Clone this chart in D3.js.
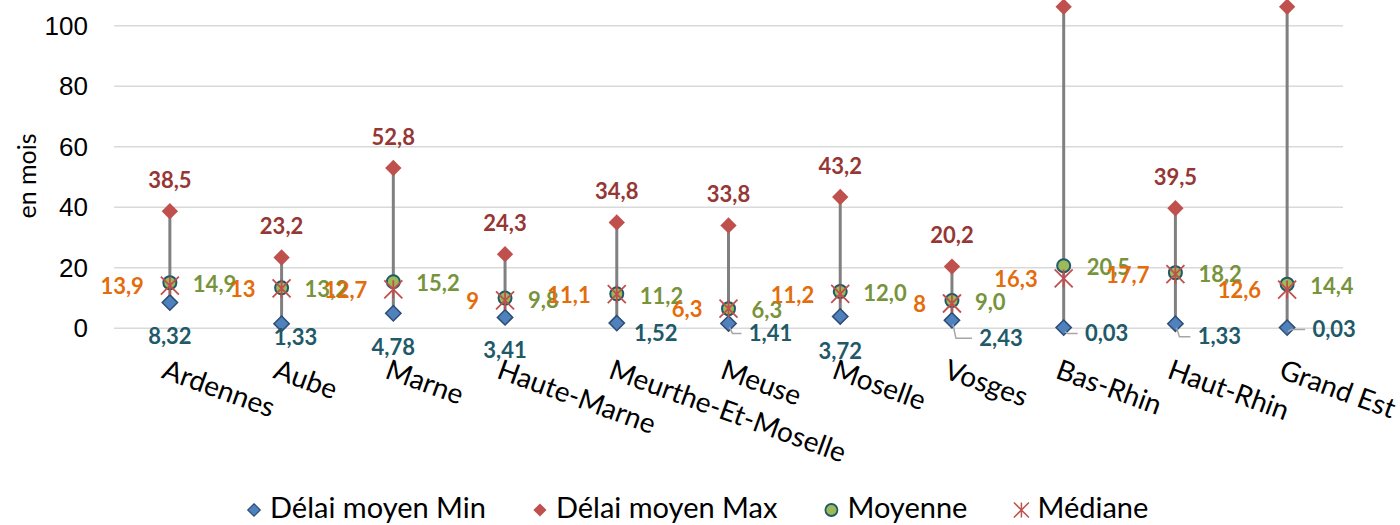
<!DOCTYPE html>
<html>
<head>
<meta charset="utf-8">
<script src="https://cdn.jsdelivr.net/npm/d3@7"></script>
<style>
  body { margin: 0; background: #fff; }
  svg { font-family: Lato, "Open Sans", sans-serif; display: block; }
</style>
</head>
<body>
<svg id="chart" width="1400" height="525"></svg>
<script>
// categories and series (months)
const departements = ['Ardennes', 'Aube', 'Marne', 'Haute-Marne', 'Meurthe-Et-Moselle', 'Meuse',
    'Moselle', 'Vosges', 'Bas-Rhin', 'Haut-Rhin', 'Grand Est'];
const delaiMin = [8.32, 1.33, 4.78, 3.41, 1.52, 1.41, 3.72, 2.43, 0.03, 1.33, 0.03];
const delaiMax = [38.5, 23.2, 52.8, 24.3, 34.8, 33.8, 43.2, 20.2, 106.1, 39.5, 106.1];
const moyenne = [14.9, 13.2, 15.2, 9.8, 11.2, 6.3, 12.0, 9.0, 20.5, 18.2, 14.4];
const mediane = [13.9, 13, 12.7, 9, 11.1, 6.3, 11.2, 8, 16.3, 17.7, 12.6];
const yTicks = [0, 20, 40, 60, 80, 100];

// hand-moved "Min" labels in the original: [dx, dy, leader line]
const minLabelNudge = [[0, 34, 0], [14, 14, 0], [0, 34, 0], [0, 33, 0], [39, 10, 0], [42, 10, 1],
    [0, 35, 0], [49, 18, 1], [43, 6, 1], [44, 13, 1], [47, 2, 1]];

const col = {
    minFill: '#4f81bd', minStroke: '#2c4d75', minText: '#215968',
    max: '#c0504d', maxText: '#953735',
    moyFill: '#9bbb59', moyStroke: '#215968', moyText: '#77933c',
    med: '#c0504d', medText: '#e46c0a',
    range: '#808080', grid: '#d9d9d9'
};

const svg = d3.select('#chart');
const left = 114, right = 1343;

const x = d3.scaleBand().domain(departements).range([left, right]).padding(0);
const y = d3.scaleLinear().domain([0, 100]).range([327.7, 25.2]);
const cx = d => x(d) + x.bandwidth() / 2;
const fr = s => s.replace('.', ',');

// gridlines + tick labels
const yaxis = d3.axisLeft(y).tickValues(yTicks).tickSize(-(right - left)).tickPadding(26);
const yg = svg.append('g').attr('transform', `translate(${left},0)`).call(yaxis);
yg.select('.domain').remove();
yg.selectAll('.tick line').attr('stroke', col.grid).attr('stroke-width', 1.5);
yg.selectAll('.tick text').attr('fill', '#000').style('font-size', '26px').attr('dy', '0.34em');

svg.append('text')
    .attr('transform', 'translate(36,176) rotate(-90)')
    .attr('text-anchor', 'middle')
    .style('font-size', '25px')
    .text('en mois');

// category labels
svg.append('g').selectAll('text')
    .data(departements)
    .join('text')
    .attr('transform', d => `translate(${cx(d) - 2},357) rotate(20)`)
    .attr('dy', '0.78em')
    .style('font-size', '28px')
    .text(d => d);

const idx = d3.range(departements.length);

// high-low lines
svg.append('g').selectAll('line')
    .data(idx)
    .join('line')
    .attr('x1', i => cx(departements[i])).attr('x2', i => cx(departements[i]))
    .attr('y1', i => y(delaiMin[i])).attr('y2', i => y(delaiMax[i]))
    .attr('stroke', col.range).attr('stroke-width', 3);

const diamond = d3.symbol().type(d3.symbolDiamond2);

// min
svg.append('g').selectAll('path')
    .data(idx)
    .join('path')
    .attr('transform', i => `translate(${cx(departements[i])},${y(delaiMin[i])})`)
    .attr('d', diamond.size(150)())
    .attr('fill', col.minFill).attr('stroke', col.minStroke).attr('stroke-width', 1.5);

// max
svg.append('g').selectAll('path')
    .data(idx)
    .join('path')
    .attr('transform', i => `translate(${cx(departements[i])},${y(delaiMax[i])})`)
    .attr('d', diamond.size(170)())
    .attr('fill', col.max);

// moyenne
svg.append('g').selectAll('circle')
    .data(idx)
    .join('circle')
    .attr('cx', i => cx(departements[i])).attr('cy', i => y(moyenne[i]))
    .attr('r', 6.5)
    .attr('fill', col.moyFill).attr('stroke', col.moyStroke).attr('stroke-width', 2);

// mediane (star marker)
const starPath = s => `M${-s},${-s}L${s},${s}M${-s},${s}L${s},${-s}M0,${-s}L0,${s}`;
svg.append('g').selectAll('path')
    .data(idx)
    .join('path')
    .attr('transform', i => `translate(${cx(departements[i])},${y(mediane[i])})`)
    .attr('d', starPath(9))
    .attr('stroke', col.med).attr('stroke-width', 1.8).attr('fill', 'none');

// data labels
const lab = svg.append('g').style('font-weight', 700).style('font-size', '22px');

// labels of points beyond the axis max sit outside the plot and are clipped
lab.selectAll('.lmax')
    .data(idx.filter(i => delaiMax[i] <= 100))
    .join('text')
    .attr('class', 'lmax')
    .attr('x', i => cx(departements[i])).attr('y', i => y(delaiMax[i]) - 31)
    .attr('dy', '0.35em').attr('text-anchor', 'middle')
    .attr('fill', col.maxText)
    .text(i => fr(d3.format('.1f')(delaiMax[i])));

lab.selectAll('.lmoy')
    .data(idx)
    .join('text')
    .attr('class', 'lmoy')
    .attr('x', i => cx(departements[i]) + 23).attr('y', i => y(moyenne[i]) + 2)
    .attr('dy', '0.35em')
    .attr('fill', col.moyText)
    .text(i => fr(d3.format('.1f')(moyenne[i])));

lab.selectAll('.lmed')
    .data(idx)
    .join('text')
    .attr('class', 'lmed')
    .attr('x', i => cx(departements[i]) - 26).attr('y', i => y(mediane[i]) + 1)
    .attr('dy', '0.35em').attr('text-anchor', 'end')
    .attr('fill', col.medText)
    .text(i => fr(String(mediane[i])));

// min labels with leader lines
svg.append('g').selectAll('path')
    .data(idx.filter(i => minLabelNudge[i][2]))
    .join('path')
    .attr('d', i => {
        const px = cx(departements[i]), py = y(delaiMin[i]);
        const ly = py + minLabelNudge[i][1];
        const lx = px + minLabelNudge[i][0] - 29;
        return `M${px + 1},${py + 4}L${px + 4},${ly}L${lx},${ly}`;
    })
    .attr('fill', 'none').attr('stroke', '#a6a6a6').attr('stroke-width', 1.5);

lab.selectAll('.lmin')
    .data(idx)
    .join('text')
    .attr('class', 'lmin')
    .attr('x', i => cx(departements[i]) + minLabelNudge[i][0])
    .attr('y', i => y(delaiMin[i]) + minLabelNudge[i][1])
    .attr('dy', '0.35em').attr('text-anchor', 'middle')
    .attr('fill', col.minText)
    .text(i => fr(d3.format('.2f')(delaiMin[i])));

// legend
const legendItems = [
    { name: 'Délai moyen Min', kind: 'min' },
    { name: 'Délai moyen Max', kind: 'max' },
    { name: 'Moyenne', kind: 'moy' },
    { name: 'Médiane', kind: 'med' }
];
const lg = svg.append('g').style('font-size', '29px');
let lx = 0;
const ly = 508, gap = 46;
legendItems.forEach(it => {
    const g = lg.append('g').attr('transform', `translate(${lx},0)`);
    if (it.kind === 'min') {
        g.append('path').attr('transform', `translate(8,${ly + 2})`).attr('d', diamond.size(100)())
            .attr('fill', col.minFill).attr('stroke', col.minStroke).attr('stroke-width', 1.2);
    } else if (it.kind === 'max') {
        g.append('path').attr('transform', `translate(8,${ly + 2})`).attr('d', diamond.size(110)())
            .attr('fill', col.max);
    } else if (it.kind === 'moy') {
        g.append('circle').attr('cx', 8).attr('cy', ly + 2).attr('r', 6)
            .attr('fill', col.moyFill).attr('stroke', col.moyStroke).attr('stroke-width', 1.8);
    } else {
        g.append('path').attr('transform', `translate(8,${ly + 2})`).attr('d', starPath(7.5))
            .attr('stroke', col.med).attr('stroke-width', 1.5).attr('fill', 'none');
    }
    const t = g.append('text').attr('x', 24).attr('y', ly).attr('dy', '0.35em').text(it.name);
    lx += 24 + t.node().getComputedTextLength() + gap;
});
lx -= gap;
lg.attr('transform', `translate(${Math.round(697 - lx / 2)},0)`);
</script>
</body>
</html>
